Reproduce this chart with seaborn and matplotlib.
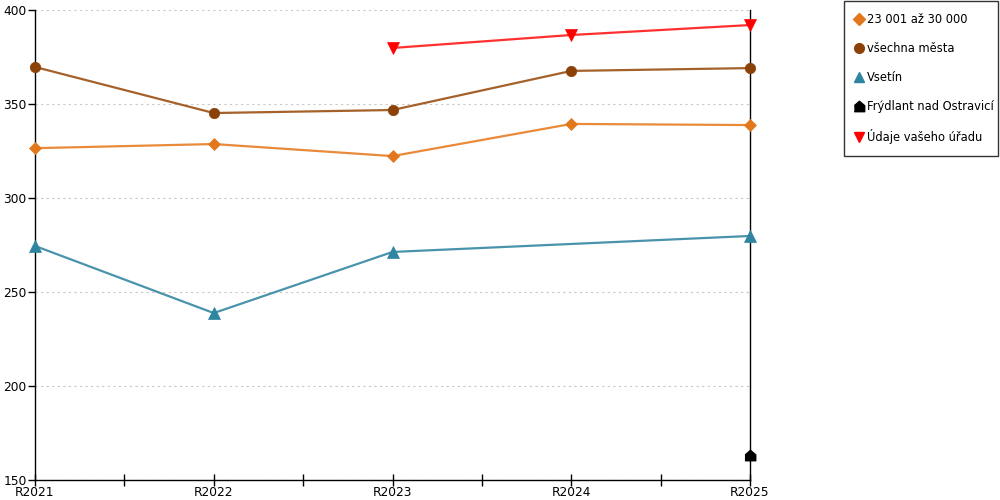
import numpy as np
import pandas as pd
import matplotlib
matplotlib.use("Agg")
import matplotlib.pyplot as plt
import seaborn as sns
from matplotlib.lines import Line2D

years = ["R2021", "R2022", "R2023", "R2024", "R2025"]

range_23_30 = [326.5, 328.7, 322.3, 339.4, 338.8]
all_towns = [369.7, 345.2, 346.8, 367.6, 369.1]
vsetin = [274.5, 238.8, 271.3, np.nan, 279.8]
frydlant = [np.nan, np.nan, np.nan, np.nan, 163.3]
your_office = [np.nan, np.nan, 379.8, 386.7, 392.0]

series_names = ["23 001 až 30 000", "všechna města", "Vsetín",
                "Frýdlant nad Ostravicí", "Údaje vašeho úřadu"]
series_values = [range_23_30, all_towns, vsetin, frydlant, your_office]

house = [(-1, -1), (1, -1), (1, 0.15), (0, 1), (-1, 0.15)]
styles = {
    "23 001 až 30 000": dict(color="#E3771C", line="#E98A3A", marker="D", ms=6.5),
    "všechna města": dict(color="#8B4209", line="#A5612A", marker="o", ms=7.5),
    "Vsetín": dict(color="#2F84A0", line="#4A93AC", marker="^", ms=8),
    "Frýdlant nad Ostravicí": dict(color="#000000", line="#000000", marker=house, ms=8),
    "Údaje vašeho úřadu": dict(color="#FF0000", line="#FF3030", marker="v", ms=8),
}

rows = []
for name, vals in zip(series_names, series_values):
    for i, v in enumerate(vals):
        if not np.isnan(v):
            rows.append({"x": i, "value": v, "series": name})
df = pd.DataFrame(rows)

sns.set_style("white")
plt.rcParams["font.family"] = ["DejaVu Sans"]
plt.rcParams["text.color"] = "black"
plt.rcParams["xtick.color"] = "black"
plt.rcParams["ytick.color"] = "black"

fig = plt.figure(figsize=(10, 5), dpi=100)
ax = fig.add_axes([0.035, 0.04, 0.715, 0.94])

for name in series_names:
    st = styles[name]
    sub = df[df["series"] == name]
    sns.lineplot(data=sub, x="x", y="value", ax=ax, color=st["line"],
                 linewidth=1.6, marker=st["marker"], markersize=st["ms"],
                 markerfacecolor=st["color"], markeredgecolor=st["color"],
                 markeredgewidth=0.5, zorder=3, clip_on=False)

ax.set_xlim(0, 4)
ax.set_ylim(150, 400)
ax.set_xticks(range(len(years)))
ax.set_xticklabels(years)
ax.set_xticks(np.arange(0.5, 4, 1), minor=True)
ax.set_yticks([150, 200, 250, 300, 350, 400])
ax.yaxis.grid(True, linestyle=(0, (2, 3)), color="#C8C8C8", linewidth=0.8)
ax.set_axisbelow(True)
ax.set_xlabel("")
ax.set_ylabel("")

for s in ["left", "bottom", "right"]:
    ax.spines[s].set_visible(True)
    ax.spines[s].set_color("black")
    ax.spines[s].set_linewidth(1)
ax.spines["top"].set_visible(False)

ax.tick_params(axis="x", which="both", direction="inout", length=9, width=1,
               color="black", labelsize=8.8, pad=0, bottom=True)
ax.tick_params(axis="y", which="major", direction="out", length=5, width=1,
               color="black", labelsize=8.8, pad=1, left=True)

handles = [Line2D([0], [0], linestyle="none", marker=styles[n]["marker"],
                  markersize=styles[n]["ms"] - 0.5, color=styles[n]["color"])
           for n in series_names]
leg = fig.legend(handles, series_names, loc="upper left", mode="expand",
                 bbox_to_anchor=(0.8435, 0.5, 0.154, 0.499), frameon=True,
                 fancybox=False, fontsize=8.3, handlelength=0.6,
                 handletextpad=0.35, labelspacing=1.4, borderpad=1.05,
                 borderaxespad=0)
leg.get_frame().set_edgecolor("black")
leg.get_frame().set_linewidth(1)

fig.savefig("out.png", dpi=100)
